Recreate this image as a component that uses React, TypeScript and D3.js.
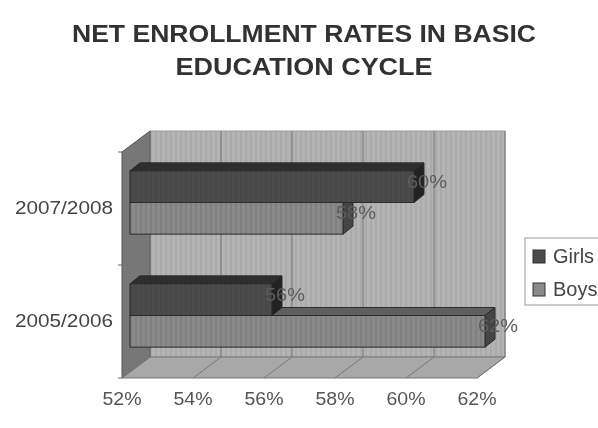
import React from "react";
import * as d3 from "d3";

const categories = ["2007/2008", "2005/2006"];
const seriesNames = ["Girls", "Boys"];
const girls = [60, 56];
const boys = [58, 62];
const xTicks = [52, 54, 56, 58, 60, 62];
const titleLines = ["NET ENROLLMENT RATES IN BASIC", "EDUCATION CYCLE"];
const titleWidths = [464, 257];

const W = 598, H = 428;
const plot = { left: 122, right: 477, top: 152, bottom: 378 };
const wallD = { x: 28, y: -21 };
const barFront = { x: 8, y: -6 };
const barD = { x: 10, y: -8 };
const font = "'Liberation Sans', Arial, sans-serif";

const x = d3.scaleLinear().domain([52, 62]).range([plot.left, plot.right]);
const yBand = d3.scaleBand<string>().domain(categories).range([plot.top, plot.bottom]).paddingInner(0.44).paddingOuter(0.22);
const yInner = d3.scaleBand<string>().domain(seriesNames).range([0, yBand.bandwidth()]);

const pts = (p: number[][]) => p.map((a) => a.join(",")).join(" ");
const colors: Record<string, { front: string; top: string; side: string }> = {
  Girls: { front: "#4b4b4b", top: "#2f2f2f", side: "#242424" },
  Boys: { front: "#8a8a8a", top: "#5e5e5e", side: "#454545" },
};
const outline = "#2a2a2a";

function Bar({ cat, name, v }: { cat: string; name: string; v: number }) {
  const c = colors[name];
  const x0 = x(52) + barFront.x;
  const x1 = x(v) + barFront.x;
  const y0 = yBand(cat)! + yInner(name)! + barFront.y;
  const y1 = y0 + yInner.bandwidth();
  const dx = barD.x, dy = barD.y;
  return (
    <g stroke={outline} strokeWidth={1}>
      <polygon points={pts([[x0, y0], [x0 + dx, y0 + dy], [x1 + dx, y0 + dy], [x1, y0]])} fill={c.top} />
      <polygon points={pts([[x1, y0], [x1 + dx, y0 + dy], [x1 + dx, y1 + dy], [x1, y1]])} fill={c.side} />
      <rect x={x0} y={y0} width={x1 - x0} height={y1 - y0} fill={c.front} />
      <rect x={x0} y={y0} width={x1 - x0} height={y1 - y0} fill="url(#stripesDark)" stroke="none" />
    </g>
  );
}

function BarLabel({ cat, name, v }: { cat: string; name: string; v: number }) {
  const y0 = yBand(cat)! + yInner(name)! + barFront.y;
  return (
    <text x={x(v) + barFront.x + 13} y={y0 + yInner.bandwidth() / 2 - 4} textAnchor="middle" dominantBaseline="middle"
      fontFamily={font} fontSize={19} textLength={40} lengthAdjust="spacingAndGlyphs" fill="#5c5c5c">
      {v}%
    </text>
  );
}

export default function App() {
  const cats = categories.map((c, i) => ({ c, g: girls[i], b: boys[i] }));
  const bottom = plot.bottom, top = plot.top;
  return (
    <svg width={W} height={H} viewBox={`0 0 ${W} ${H}`} style={{ position: "absolute", left: 0, top: 0, background: "#fff" }}>
      <defs>
        <pattern id="stripes" width={5} height={5} patternUnits="userSpaceOnUse">
          <rect x={0} y={0} width={2} height={5} fill="#8a8a8a" fillOpacity={0.22} />
        </pattern>
        <pattern id="stripesDark" width={5} height={5} patternUnits="userSpaceOnUse">
          <rect x={0} y={0} width={2} height={5} fill="#000" fillOpacity={0.07} />
        </pattern>
        <filter id="soft" x="-5%" y="-5%" width="110%" height="110%">
          <feGaussianBlur stdDeviation={0.7} />
        </filter>
      </defs>
      <g filter="url(#soft)">
        {titleLines.map((t, i) => (
          <text key={t} x={304} y={42 + i * 33} textAnchor="middle" fontFamily={font} fontWeight="bold" fontSize={24} textLength={titleWidths[i]} lengthAdjust="spacingAndGlyphs" fill="#333">
            {t}
          </text>
        ))}

        {/* back wall */}
        <rect x={plot.left + wallD.x} y={top + wallD.y} width={plot.right - plot.left} height={bottom - top} fill="#b4b4b4" stroke="#999" />
        <rect x={plot.left + wallD.x} y={top + wallD.y} width={plot.right - plot.left} height={bottom - top} fill="url(#stripes)" />
        {/* left wall */}
        <polygon points={pts([[plot.left, top], [plot.left + wallD.x, top + wallD.y], [plot.left + wallD.x, bottom + wallD.y], [plot.left, bottom]])} fill="#777" stroke="#555" />
        {/* floor */}
        <polygon points={pts([[plot.left, bottom], [plot.left + wallD.x, bottom + wallD.y], [plot.right + wallD.x, bottom + wallD.y], [plot.right, bottom]])} fill="#a8a8a8" stroke="#777" />
        {/* grid */}
        {xTicks.map((t) => (
          <g key={t} stroke="#777" strokeWidth={1}>
            <line x1={x(t)} y1={bottom} x2={x(t) + wallD.x} y2={bottom + wallD.y} />
            <line x1={x(t) + wallD.x} y1={bottom + wallD.y} x2={x(t) + wallD.x} y2={top + wallD.y} />
          </g>
        ))}
        {/* category ticks */}
        {[plot.top, (plot.top + plot.bottom) / 2, plot.bottom].map((v) => (
          <line key={v} x1={plot.left - 4} x2={plot.left} y1={v} y2={v} stroke="#666" />
        ))}
        {/* bars: rear first */}
        {cats.map(({ c, g, b }) => (
          <g key={c}>
            <Bar cat={c} name="Boys" v={b} />
            <Bar cat={c} name="Girls" v={g} />
            <BarLabel cat={c} name="Girls" v={g} />
            <BarLabel cat={c} name="Boys" v={b} />
          </g>
        ))}
        {/* axis labels */}
        {xTicks.map((t) => (
          <text key={t} x={x(t)} y={405} textAnchor="middle" fontFamily={font} fontSize={19} textLength={39} lengthAdjust="spacingAndGlyphs" fill="#555">
            {t}%
          </text>
        ))}
        {categories.map((c) => (
          <text key={c} x={113} y={yBand(c)! + yBand.bandwidth() / 2 + 5} textAnchor="end" fontFamily={font} fontSize={19} textLength={98} lengthAdjust="spacingAndGlyphs" fill="#444">
            {c}
          </text>
        ))}
        {/* legend */}
        <rect x={525} y={238} width={80} height={67} fill="#fff" stroke="#999" />
        {seriesNames.map((s, i) => (
          <g key={s}>
            <rect x={533} y={250 + i * 33} width={12} height={13} fill={colors[s].front} stroke="#333" />
            <text x={553} y={263 + i * 33} fontFamily={font} fontSize={20} fill="#444">
              {s}
            </text>
          </g>
        ))}
      </g>
    </svg>
  );
}
